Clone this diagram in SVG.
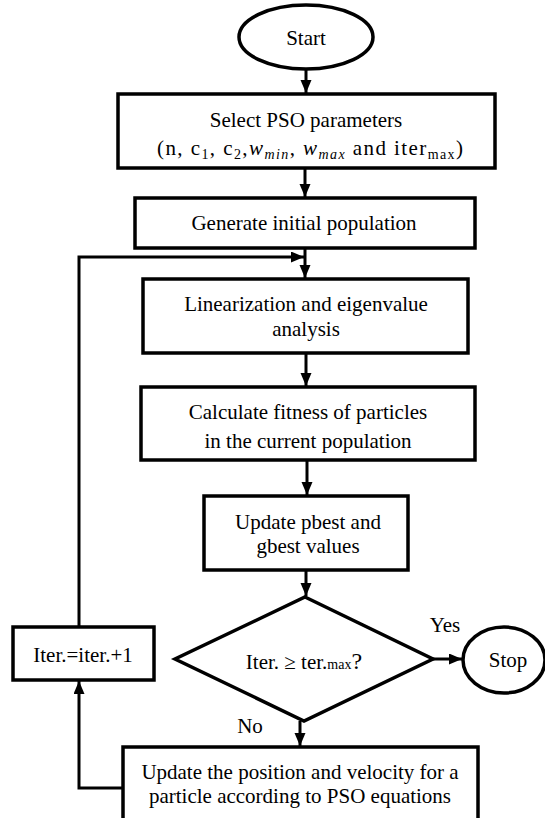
<svg xmlns="http://www.w3.org/2000/svg" width="545" height="818" viewBox="0 0 545 818">
<defs>
<marker id="ah" markerUnits="userSpaceOnUse" markerWidth="14" markerHeight="12" refX="13" refY="5.5" orient="auto">
<path d="M0,0 L13,5.5 L0,11 z" fill="#000"/>
</marker>
<style>
.n{fill:#fff;stroke:#000;stroke-width:3.5}
.t{font-family:"Liberation Serif","Times New Roman",serif;font-size:21px;fill:#000;text-anchor:middle}
.c{fill:none;stroke:#000;stroke-width:3;marker-end:url(#ah)}
.s{font-size:14px}
</style>
</defs>
<rect width="545" height="818" fill="#fff"/>
<g id="connectors">
<line class="c" x1="306" y1="69" x2="306" y2="93"/>
<line class="c" x1="305" y1="168" x2="305" y2="197"/>
<line class="c" x1="305" y1="248" x2="305" y2="278"/>
<polyline class="c" points="79,627 79,257 304,257"/>
<line class="c" x1="306" y1="353" x2="306" y2="386"/>
<line class="c" x1="307" y1="460" x2="307" y2="495"/>
<line class="c" x1="306" y1="570" x2="306" y2="596"/>
<line class="c" x1="433" y1="659" x2="462" y2="659"/>
<line class="c" x1="300" y1="721" x2="300" y2="746"/>
<polyline class="c" points="123,788 79,788 79,681"/>
</g>
<g id="start">
<ellipse class="n" cx="306" cy="37" rx="67" ry="32"/>
<text class="t" x="306" y="45">Start</text>
</g>
<g id="select">
<rect class="n" x="118" y="94" width="377" height="74"/>
<text class="t" x="306" y="127">Select PSO parameters</text>
<text class="t" x="310" y="155" textLength="306" lengthAdjust="spacing">(n, c<tspan class="s" dy="4">1</tspan><tspan dy="-4">, c</tspan><tspan class="s" dy="4">2</tspan><tspan dy="-4">,</tspan><tspan font-style="italic">w</tspan><tspan class="s" font-style="italic" dy="4">min</tspan><tspan dy="-4">, </tspan><tspan font-style="italic">w</tspan><tspan class="s" font-style="italic" dy="4">max</tspan><tspan dy="-4"> and iter</tspan><tspan class="s" dy="4">max</tspan><tspan dy="-4">)</tspan></text>
</g>
<g id="generate">
<rect class="n" x="135" y="198" width="340" height="50"/>
<text class="t" x="304" y="230">Generate initial population</text>
</g>
<g id="linearization">
<rect class="n" x="143" y="279" width="325" height="74"/>
<text class="t" x="306" y="311">Linearization and eigenvalue</text>
<text class="t" x="306" y="336">analysis</text>
</g>
<g id="fitness">
<rect class="n" x="141" y="387" width="334" height="73"/>
<text class="t" x="308" y="419">Calculate fitness of particles</text>
<text class="t" x="308" y="448">in the current population</text>
</g>
<g id="update-best">
<rect class="n" x="204" y="496" width="204" height="74"/>
<text class="t" x="308" y="529">Update pbest and</text>
<text class="t" x="308" y="553">gbest values</text>
</g>
<g id="decision">
<polygon class="n" points="305,597 433,659 304,721 175,659"/>
<text class="t" x="304" y="669">Iter. ≥ ter.<tspan class="s">max</tspan><tspan font-size="24">?</tspan></text>
<text class="t" x="445" y="632">Yes</text>
<text class="t" x="250" y="733">No</text>
</g>
<g id="stop">
<ellipse class="n" cx="504" cy="660" rx="41" ry="33"/>
<text class="t" x="508" y="667">Stop</text>
</g>
<g id="iter">
<rect class="n" x="13" y="627" width="141" height="53"/>
<text class="t" x="83" y="662">Iter.=iter.+1</text>
</g>
<g id="update-position">
<rect class="n" x="123" y="747" width="355" height="80"/>
<text class="t" x="300" y="779">Update the position and velocity for a</text>
<text class="t" x="300" y="803">particle according to PSO equations</text>
</g>
</svg>
